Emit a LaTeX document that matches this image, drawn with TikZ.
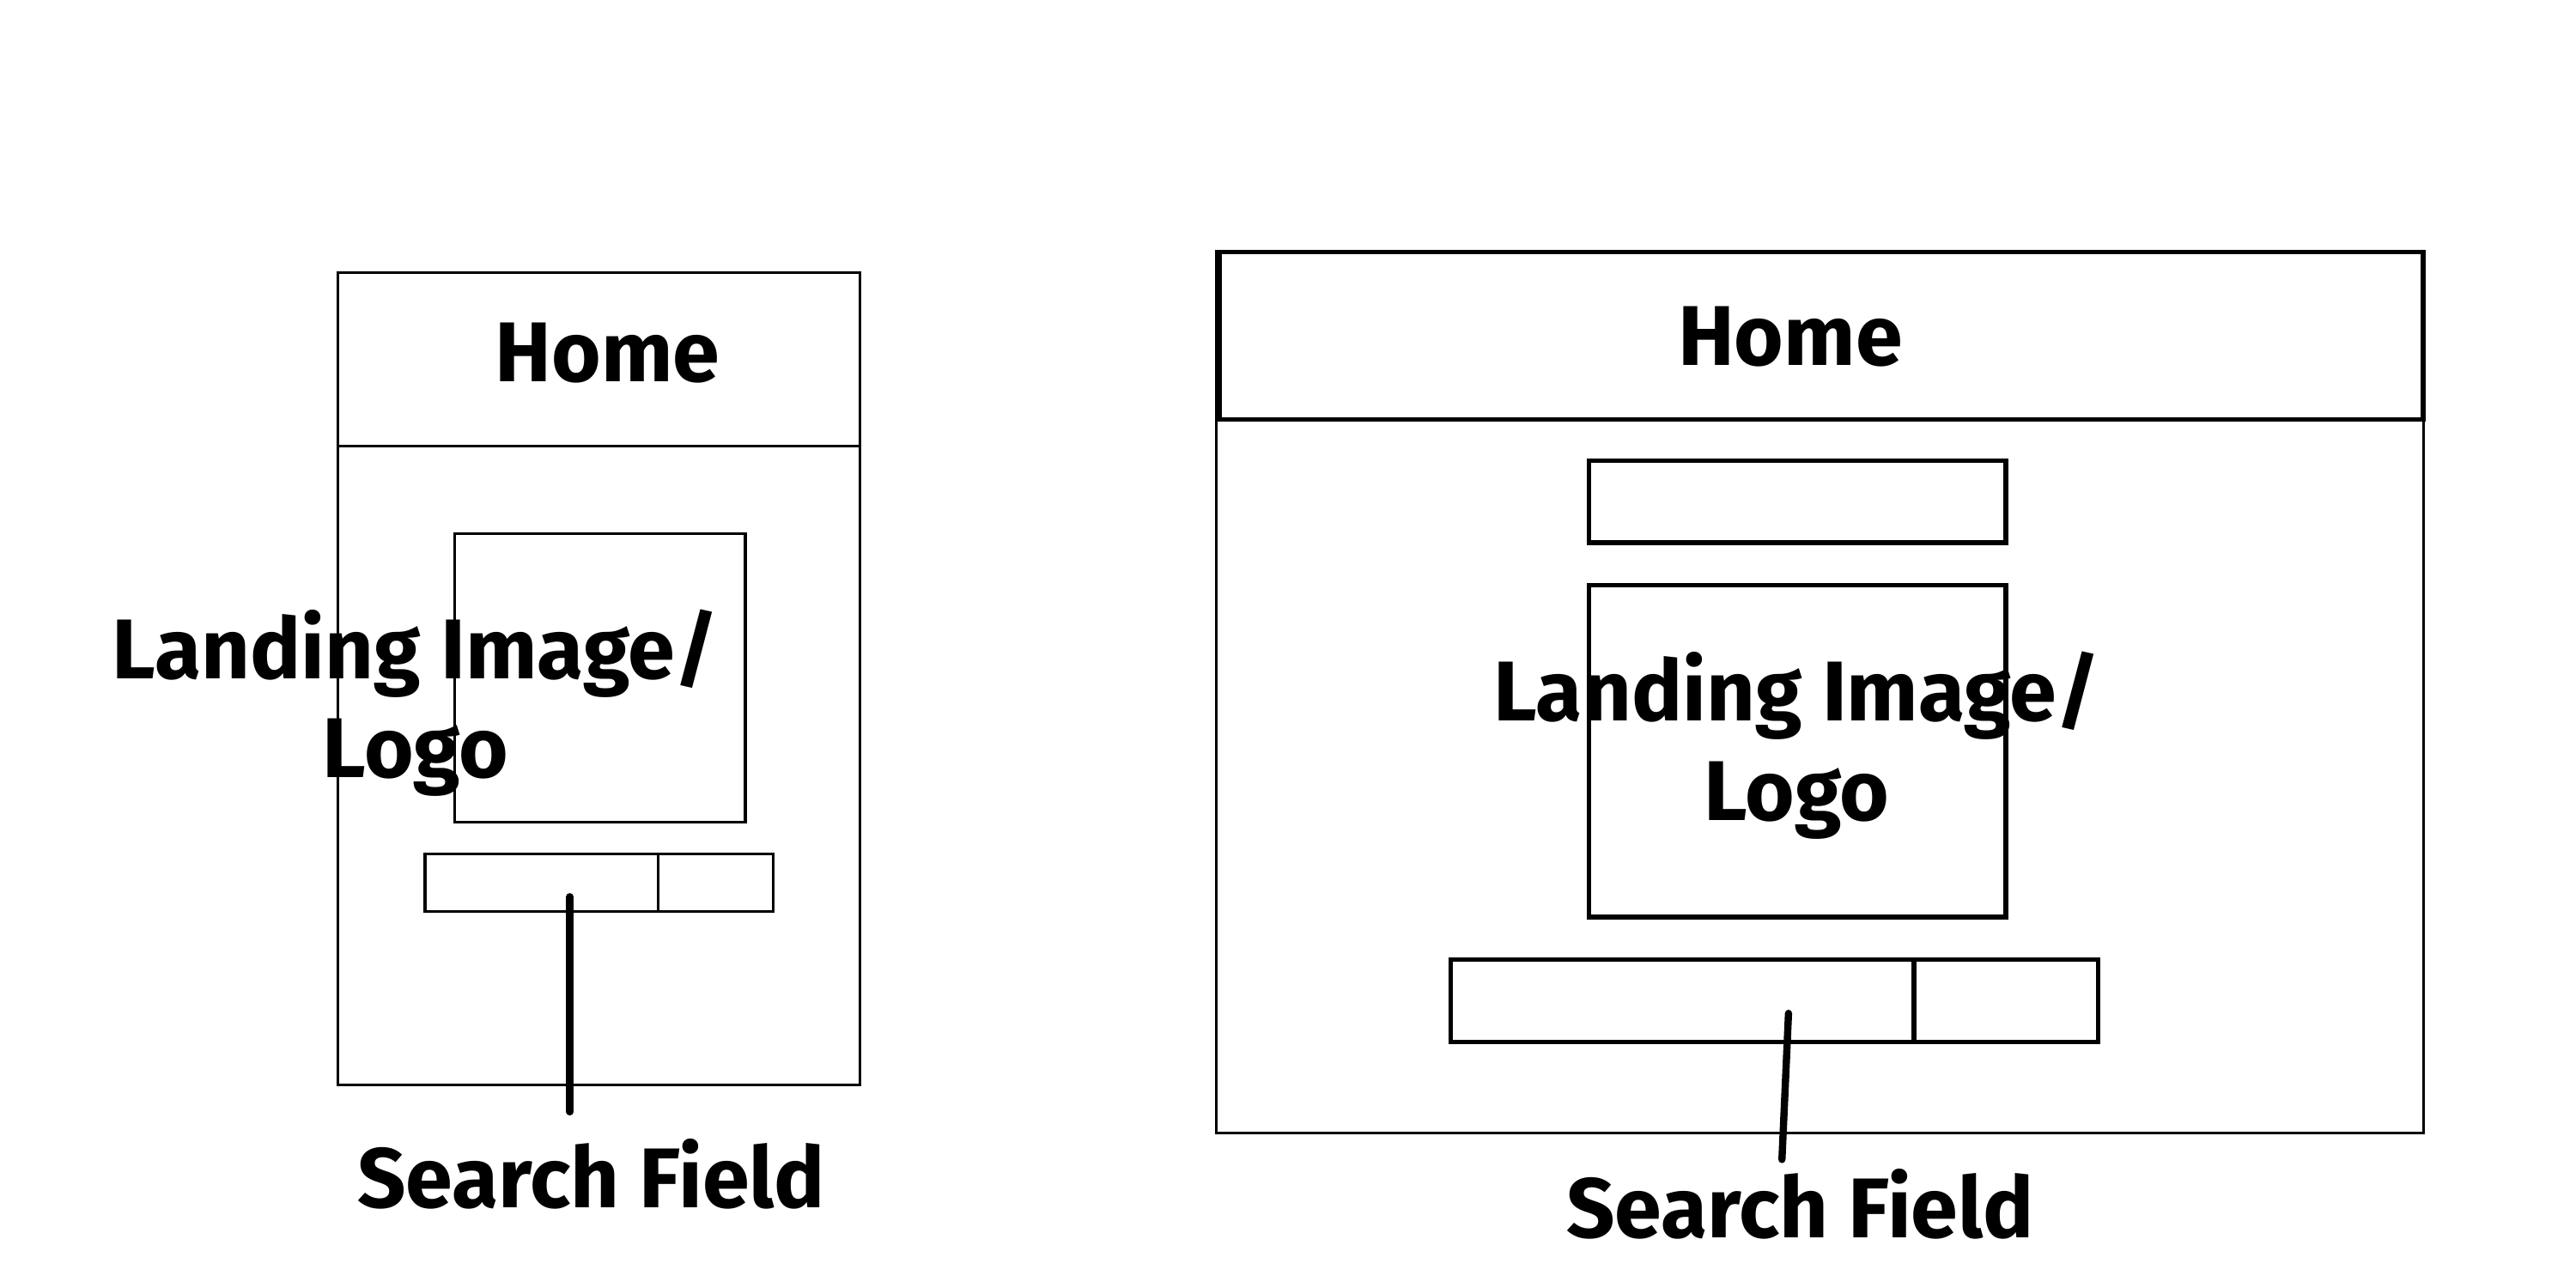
\documentclass[tikz,border=0pt]{standalone}
\usepackage{fontspec}
\setmainfont{Fira Sans}[BoldFont={Fira Sans Bold}]
\begin{document}
\begin{tikzpicture}[x=0.5mm,y=-0.5mm,
  thinbox/.style={draw,line width=0.8mm,inner sep=0pt,anchor=north west},
  thickbox/.style={draw,line width=1.4mm,inner sep=0pt,anchor=north west},
  lbl/.style={font=\fontsize{73.5}{86}\selectfont\bfseries,inner sep=0pt,align=center},
  pointer/.style={line width=2.2mm,line cap=round}]
\useasboundingbox (0,0) rectangle (1568.5,784.25);
% ---------- left (mobile) ----------
\node[thinbox,minimum width=159mm,minimum height=247.5mm] (Lout) at (205,165) {};
\node[thinbox,minimum width=159mm,minimum height=53mm] (Lhead) at (205,165) {};
\node[lbl] (Lhome) at (370,215) {Home};
\node[thinbox,minimum width=88.5mm,minimum height=88mm] (Limg) at (276,324) {};
\node[thinbox,minimum width=71mm,minimum height=17.5mm] (Lfield) at (258,519) {};
\node[thinbox,minimum width=35mm,minimum height=17.5mm] (Lbtn) at (400,519) {};
\node[lbl] (Lland) at (253,428) {Landing Image/\\Logo};
\node[lbl] (Lsf) at (360,715) {Search Field};
\coordinate (Lp1) at (347,546);
\coordinate (Lp2) at (347,677);
\draw[pointer] (Lp1) -- (Lp2);
% ---------- right (desktop) ----------
\node[thinbox,minimum width=367.5mm,minimum height=268.5mm] (Rout) at (740,152) {};
\node[thickbox,minimum width=366.5mm,minimum height=51mm] (Rhead) at (741,152) {};
\node[lbl] (Rhome) at (1090,205) {Home};
\node[thickbox,minimum width=127mm,minimum height=25mm] (Rbar) at (966,279) {};
\node[thickbox,minimum width=127mm,minimum height=101mm] (Rimg) at (966,355) {};
\node[thickbox,minimum width=141mm,minimum height=25mm] (Rfield) at (882,583) {};
\node[thickbox,minimum width=56mm,minimum height=25mm] (Rbtn) at (1164,583) {};
\node[lbl] (Rland) at (1094,454) {Landing Image/\\Logo};
\node[lbl] (Rsf) at (1096,733) {Search Field};
\coordinate (Rp1) at (1089,617);
\coordinate (Rp2) at (1085,706);
\draw[pointer] (Rp1) -- (Rp2);
\end{tikzpicture}
\end{document}
